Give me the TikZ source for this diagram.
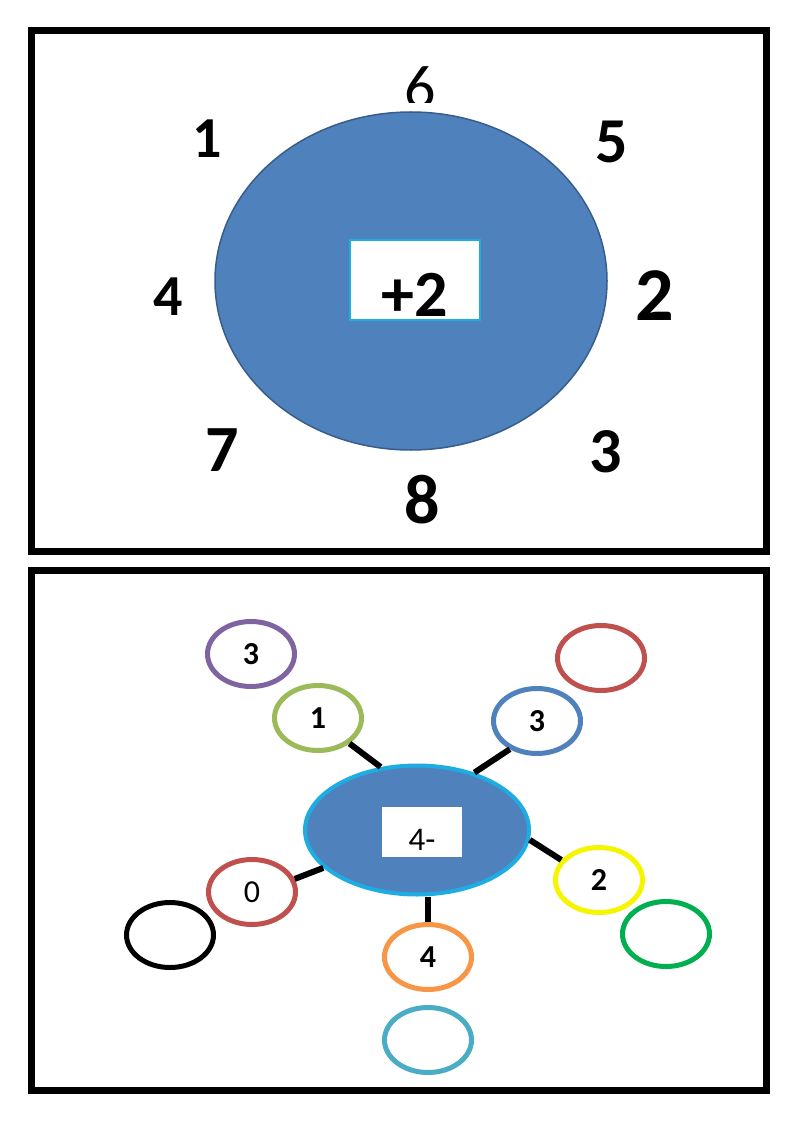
\documentclass[tikz,border=0pt]{standalone}
\usepackage{fontspec}
\setmainfont{Carlito}
\usepackage{tikz}
\usetikzlibrary{shapes,calc,positioning}
\definecolor{fillblue}{HTML}{4F81BD}
\definecolor{edgeblue}{HTML}{385D8A}
\definecolor{skyblue}{HTML}{1DADE2}
\definecolor{ringpurple}{HTML}{8064A2}
\definecolor{ringolive}{HTML}{9BBB59}
\definecolor{ringblue}{HTML}{4F81BD}
\definecolor{ringred}{HTML}{C0504D}
\definecolor{ringyellow}{HTML}{F5F500}
\definecolor{ringgreen}{HTML}{00B050}
\definecolor{ringorange}{HTML}{F79646}
\definecolor{ringteal}{HTML}{4BACC6}
\tikzset{
    x=1pt,y=-1pt,
    frame/.style={draw, line width=7},
    num/.style={inner sep=0, font=\fontsize{#1}{#1}\selectfont\bfseries},
    ring/.style={ellipse, draw=#1, line width=5, minimum width=87, minimum height=65, inner sep=0,
        font=\fontsize{32}{32}\selectfont\bfseries},
    link/.style={line width=6}
}
\begin{document}
\begin{tikzpicture}
    \useasboundingbox[fill=white] (0,0) rectangle (800,1131);
    % upper panel
    \draw[frame] (31,31) rectangle (766,551);
    \begin{scope}
        \clip (380,60) rectangle (460,103);
        \node[inner sep=0, font=\fontsize{62}{62}\selectfont] (six) at (420,88) {6};
    \end{scope}
    \node[ellipse, draw=edgeblue, fill=fillblue, line width=1.5, minimum width=392, minimum height=338] (wheel) at (411,281) {};
    \node[draw=skyblue, fill=white, line width=1.5, minimum width=130, minimum height=80, inner sep=0] (rulebox) at (415,280) {};
    \node[num=66] (rule) at (415,295) {+2};
    \node[num=58] (one) at (207,139) {1};
    \node[num=64] (five) at (612,142) {5};
    \node[num=58] (four) at (168,297) {4};
    \node[num=76] (two) at (655,296) {2};
    \node[num=66] (seven) at (222,450) {7};
    \node[num=64] (three) at (606,452) {3};
    \node[num=70] (eight) at (422,500) {8};
    % lower panel
    \draw[frame] (31,570) rectangle (766,1090);
    \node[ellipse, draw=skyblue, fill=fillblue, line width=4, minimum width=224, minimum height=129] (hub) at (417,830) {};
    \node[fill=white, minimum width=80, minimum height=50, inner sep=0] (hubbox) at (422,832) {};
    \node[inner sep=0, font=\fontsize{33}{33}\selectfont] (hubtext) at (422,840) {4-};
    \node[ring=ringpurple] (r3a) at (251,654) {3};
    \node[ring=ringolive] (r1) at (318,718) {1};
    \node[ring=ringblue] (r3b) at (537,721) {3};
    \node[ring=ringred] (rtop) at (601,658) {};
    \node[ring=ringred, font=\fontsize{32}{32}\selectfont] (r0) at (252,892) {0};
    \node[ring=black] (rblack) at (170,935) {};
    \node[ring=ringorange] (r4) at (428,957) {4};
    \node[ring=ringteal] (rteal) at (428,1040) {};
    \node[ring=ringyellow] (r2) at (599,880) {2};
    \node[ring=ringgreen] (rgreen) at (666,934) {};

    \draw[link] (r1.-39) -- (hub.120);
    \draw[link] (r3b.-134) -- (hub.45);
    \draw[link] (hub.-5) -- (r2.152);
    \draw[link] (hub.-158) -- (r0.17);
    \draw[link] (hub.south -| r4) -- (r4);
\end{tikzpicture}
\end{document}
